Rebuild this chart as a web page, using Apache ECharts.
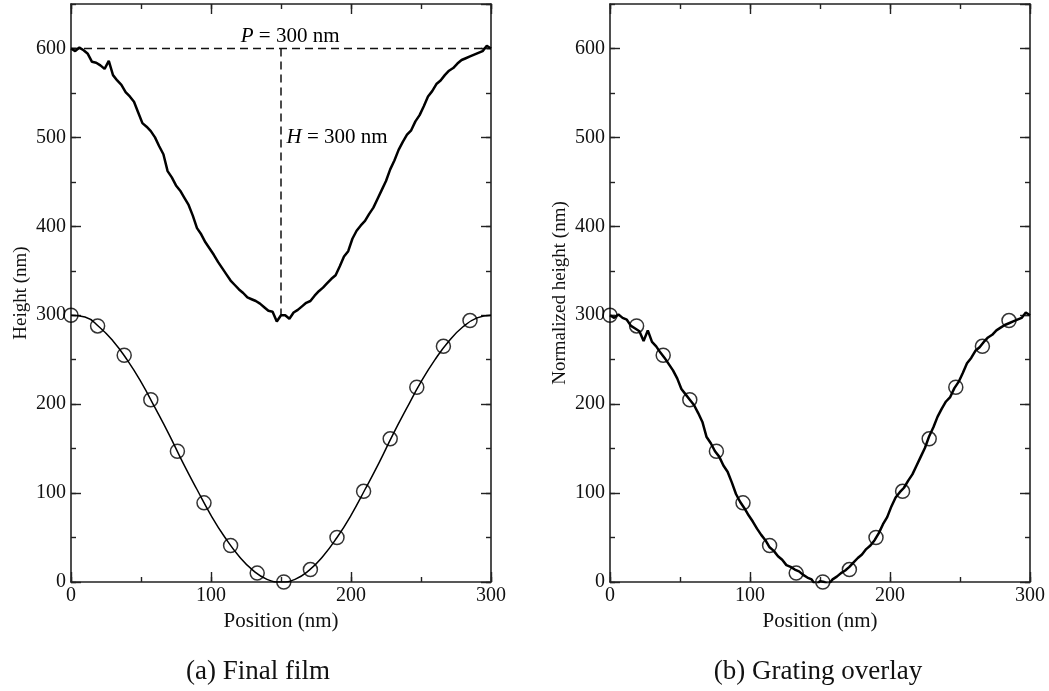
<!DOCTYPE html>
<html>
<head>
    <meta charset="utf-8">
    <title>Final film / Grating overlay</title>
    <script src="https://cdn.jsdelivr.net/npm/echarts@6.0.0/dist/echarts.min.js"></script>
    <style>
        html, body { margin: 0; padding: 0; background: #fff; }
        #chart { width: 1049px; height: 691px; }
    </style>
</head>
<body>
<div id="chart"></div>
<script type="text/javascript">
    // x positions of the noisy profiles (nm), one every 3 nm
    var profileX = [];
    for (var i = 0; i <= 100; i++) profileX.push(i * 3);

    // (a) measured film height (nm)
    var filmHeight = [
        600, 597, 601, 598, 594, 585, 584, 581, 577, 586,
        570, 564, 559, 551, 546, 540, 528, 516, 512, 507,
        500, 490, 481, 462, 455, 446, 440, 432, 424, 412,
        398, 391, 382, 375, 368, 360, 353, 346, 339, 334,
        329, 325, 320, 318, 316, 313, 309, 305, 304, 293,
        300, 300, 296, 303, 306, 310, 314, 316, 322, 327,
        331, 336, 341, 345, 355, 366, 372, 386, 395, 401,
        406, 414, 421, 431, 441, 451, 464, 474, 486, 495,
        503, 508, 518, 525, 535, 546, 552, 560, 564, 570,
        575, 578, 583, 587, 589, 591, 593, 595, 597, 603,
        600
    ];

    // (b) normalized film height (nm)
    var normHeight = [
        300, 297, 301, 297, 295, 288, 285, 282, 271, 283,
        270, 265, 258, 252, 245, 238, 229, 217, 211, 205,
        199, 190, 180, 163, 156, 147, 141, 131, 124, 112,
        99, 90, 83, 75, 68, 60, 53, 47, 39, 35,
        29, 25, 19, 17, 14, 12, 8, 5, 3, -4,
        1, 0, -3, 3, 6, 10, 13, 17, 22, 27,
        31, 37, 41, 47, 55, 65, 73, 85, 95, 101,
        106, 114, 121, 131, 141, 151, 164, 174, 186, 195,
        203, 208, 218, 225, 235, 246, 252, 260, 264, 270,
        275, 278, 283, 286, 289, 291, 293, 295, 297, 303,
        300
    ];

    // grating profile (smooth curve), every 10 nm
    var gratingX = [0, 10, 20, 30, 40, 50, 60, 70, 80, 90, 100, 110, 120, 130, 140, 150,
        160, 170, 180, 190, 200, 210, 220, 230, 240, 250, 260, 270, 280, 290, 300];
    var gratingY = [300, 298, 287, 271, 250, 225, 196, 166, 134, 104, 75, 50, 29, 13, 3, 0,
        3, 13, 29, 50, 75, 104, 134, 166, 196, 225, 250, 271, 287, 297, 300];

    // grating sample circles
    var circleX = [0, 19, 38, 57, 76, 95, 114, 133, 152, 171, 190, 209, 228, 247, 266, 285];
    var circleY = [300, 288, 255, 205, 147, 89, 41, 10, 0, 14, 50, 102, 161, 219, 265, 294];

    // annotation guides in panel (a)
    var periodLine = [[0, 600], [300, 600]];
    var heightLine = [[150, 600], [150, 300]];
    var periodLabelAt = [156.5, 614];
    var heightLabelAt = [154, 500];

    var xTickLabels = ['0', '100', '200', '300'];
    var yTickLabels = ['0', '100', '200', '300', '400', '500', '600'];

    var FONT = 'Liberation Serif';

    function zip(xs, ys) {
        return xs.map(function (x, k) { return [x, ys[k]]; });
    }

    // major + minor tick axes for one panel
    var xAxes = [], yAxes = [];
    function addAxes(g, yName) {
        ['bottom', 'top'].forEach(function (pos) {
            xAxes.push({
                type: 'value', gridIndex: g, position: pos, min: 0, max: 300, interval: 100,
                axisLine: { show: true, onZero: false, lineStyle: { color: '#222', width: 1.6 } },
                axisTick: { show: true, inside: true, length: 10, lineStyle: { color: '#222', width: 1.4 } },
                axisLabel: {
                    show: pos === 'bottom', margin: 4, color: '#111', fontFamily: FONT, fontSize: 20,
                    formatter: function (v) { return xTickLabels[v / 100]; }
                },
                splitLine: { show: false },
                name: pos === 'bottom' ? 'Position (nm)' : '',
                nameLocation: 'middle', nameGap: 22,
                nameTextStyle: { color: '#111', fontFamily: FONT, fontSize: 21 }
            });
        });
        ['bottom', 'top'].forEach(function (pos) {
            xAxes.push({
                type: 'value', gridIndex: g, position: pos, min: 0, max: 300, interval: 50,
                axisLine: { show: false, onZero: false },
                axisTick: { show: true, inside: true, length: 5, lineStyle: { color: '#222', width: 1.4 } },
                axisLabel: { show: false }, splitLine: { show: false }
            });
        });
        ['left', 'right'].forEach(function (pos) {
            yAxes.push({
                type: 'value', gridIndex: g, position: pos, min: 0, max: 650, interval: 100,
                axisLine: { show: true, onZero: false, lineStyle: { color: '#222', width: 1.6 } },
                axisTick: { show: true, inside: true, length: 10, lineStyle: { color: '#222', width: 1.4 } },
                axisLabel: {
                    show: pos === 'left', margin: 5, color: '#111', fontFamily: FONT, fontSize: 20,
                    showMaxLabel: false,
                    formatter: function (v) { return yTickLabels[v / 100] || ''; }
                },
                splitLine: { show: false },
                name: pos === 'left' ? yName : '',
                nameLocation: 'middle', nameGap: 40,
                nameTextStyle: { color: '#111', fontFamily: FONT, fontSize: 19 }
            });
        });
        ['left', 'right'].forEach(function (pos) {
            yAxes.push({
                type: 'value', gridIndex: g, position: pos, min: 0, max: 650, interval: 50,
                axisLine: { show: false, onZero: false },
                axisTick: { show: true, inside: true, length: 5, lineStyle: { color: '#222', width: 1.4 } },
                axisLabel: { show: false }, splitLine: { show: false }
            });
        });
    }
    addAxes(0, 'Height (nm)');
    addAxes(1, 'Normalized height (nm)');

    var circleStyle = { color: 'rgba(0,0,0,0)', borderColor: '#000', borderWidth: 1.5 };

    var myChart = echarts.init(document.getElementById('chart'));
    myChart.setOption({
        animation: false,
        backgroundColor: '#fff',
        grid: [
            { left: 71, top: 4, width: 420, height: 578 },
            { left: 610, top: 4, width: 420, height: 578 }
        ],
        xAxis: xAxes,
        yAxis: yAxes,
        series: [
            // panel (a)
            {
                type: 'line', xAxisIndex: 0, yAxisIndex: 0, data: periodLine, symbol: 'none',
                lineStyle: { color: '#111', width: 1.5, type: [8, 5] }
            },
            {
                type: 'line', xAxisIndex: 0, yAxisIndex: 0, data: heightLine, symbol: 'none',
                lineStyle: { color: '#111', width: 1.5, type: [8, 5] }
            },
            {
                type: 'line', xAxisIndex: 0, yAxisIndex: 0, data: zip(profileX, filmHeight), symbol: 'none',
                lineStyle: { color: '#000', width: 2.5 }
            },
            {
                type: 'line', xAxisIndex: 0, yAxisIndex: 0, data: zip(gratingX, gratingY), symbol: 'none',
                smooth: true, lineStyle: { color: '#000', width: 1.5 }
            },
            {
                type: 'scatter', xAxisIndex: 0, yAxisIndex: 0, data: zip(circleX, circleY),
                symbol: 'circle', symbolSize: 14, itemStyle: circleStyle
            },
            // panel (b)
            {
                type: 'line', xAxisIndex: 4, yAxisIndex: 4, data: zip(profileX, normHeight), symbol: 'none',
                lineStyle: { color: '#000', width: 2.5 }
            },
            {
                type: 'scatter', xAxisIndex: 4, yAxisIndex: 4, data: zip(circleX, circleY),
                symbol: 'circle', symbolSize: 14, itemStyle: circleStyle
            }
        ]
    });

    // annotation texts placed through the panel (a) scales
    var pP = myChart.convertToPixel({ xAxisIndex: 0, yAxisIndex: 0 }, periodLabelAt);
    var pH = myChart.convertToPixel({ xAxisIndex: 0, yAxisIndex: 0 }, heightLabelAt);
    var rich = { i: { fontStyle: 'italic', fontFamily: FONT, fontSize: 21, fill: '#000' } };
    myChart.setOption({
        graphic: [
            {
                type: 'text', x: pP[0], y: pP[1],
                style: { text: '{i|P} = 300 nm', fill: '#000', fontFamily: FONT, fontSize: 21, rich: rich, align: 'center', verticalAlign: 'middle' }
            },
            {
                type: 'text', x: pH[0], y: pH[1],
                style: { text: '{i|H} = 300 nm', fill: '#000', fontFamily: FONT, fontSize: 21, rich: rich, align: 'left', verticalAlign: 'middle' }
            },
            {
                type: 'text', x: 258, y: 672,
                style: { text: '(a) Final film', fill: '#111', font: '27px "Liberation Serif"', align: 'center', verticalAlign: 'middle' }
            },
            {
                type: 'text', x: 818, y: 672,
                style: { text: '(b) Grating overlay', fill: '#111', font: '27px "Liberation Serif"', align: 'center', verticalAlign: 'middle' }
            }
        ]
    });
</script>
</body>
</html>
